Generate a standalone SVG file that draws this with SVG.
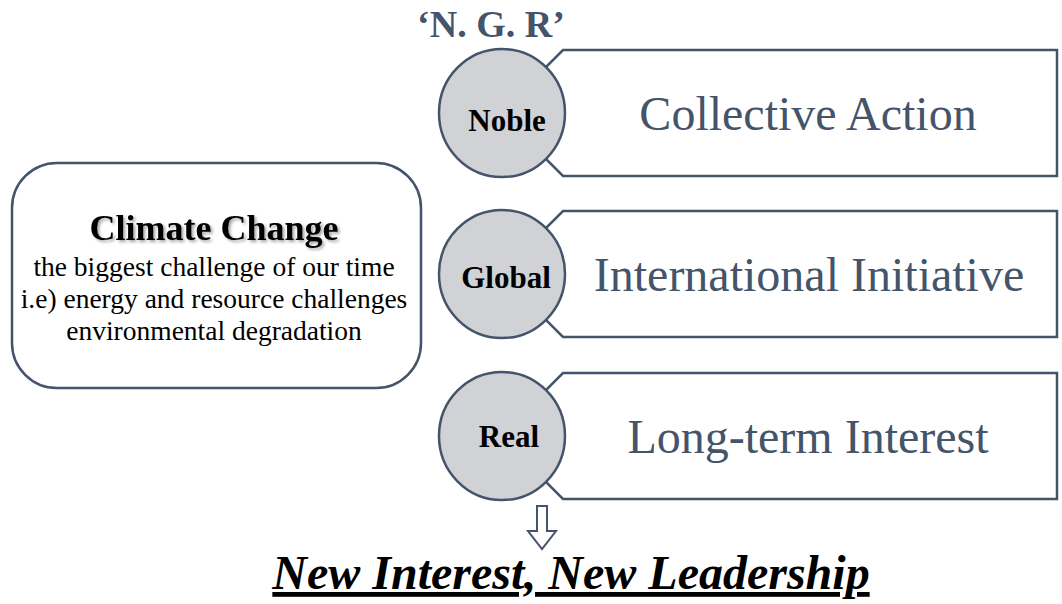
<svg xmlns="http://www.w3.org/2000/svg" width="1062" height="604" viewBox="0 0 1062 604">
<defs>
<filter id="sh" x="-10%" y="-30%" width="120%" height="160%">
<feGaussianBlur in="SourceAlpha" stdDeviation="1.5"/>
<feOffset dx="2" dy="2" result="b"/>
<feFlood flood-color="#000" flood-opacity="0.35"/>
<feComposite in2="b" operator="in"/>
<feMerge><feMergeNode/><feMergeNode in="SourceGraphic"/></feMerge>
</filter>
</defs>
<style>
.box{fill:#fff;stroke:#44546A;stroke-width:2.5}
.cir{fill:#D1D2D6;stroke:#44546A;stroke-width:2.5}
.big{font-family:"Liberation Serif",serif;font-size:48px;fill:#44546A;text-anchor:middle}
.lbl{font-family:"Liberation Serif",serif;font-size:31px;font-weight:bold;fill:#000;text-anchor:middle}
.body{font-family:"Liberation Serif",serif;font-size:27.5px;fill:#000;text-anchor:middle}
</style>
<rect width="1062" height="604" fill="#fff"/>
<g id="title">
<text x="491" y="37" font-family="Liberation Serif, serif" font-size="38" font-weight="bold" fill="#44546A" text-anchor="middle">‘N. G. R’</text>
</g>
<g id="climate">
<rect class="box" x="12" y="163" width="409" height="225" rx="45" ry="45"/>
<text x="214" y="240" font-family="Liberation Serif, serif" font-size="36" font-weight="bold" fill="#000" text-anchor="middle" filter="url(#sh)">Climate Change</text>
<text class="body" x="214" y="276">the biggest challenge of our time</text>
<text class="body" x="214" y="308">i.e) energy and resource challenges</text>
<text class="body" x="214" y="340">environmental degradation</text>
</g>
<g id="noble">
<polygon class="box" points="500,113 563,50 1057,50 1057,176 563,176"/>
<text class="big" x="808" y="130">Collective Action</text>
<ellipse class="cir" cx="502" cy="113" rx="63" ry="64"/>
<text class="lbl" x="507" y="131">Noble</text>
</g>
<g id="global">
<polygon class="box" points="500,274 563,211 1057,211 1057,337 563,337"/>
<text class="big" x="809" y="291">International Initiative</text>
<ellipse class="cir" cx="502" cy="274" rx="63" ry="64"/>
<text class="lbl" x="506" y="288">Global</text>
</g>
<g id="real">
<polygon class="box" points="500,436 563,373 1057,373 1057,499 563,499"/>
<text class="big" x="808" y="453">Long-term Interest</text>
<ellipse class="cir" cx="502" cy="436" rx="63" ry="64"/>
<text class="lbl" x="509" y="447">Real</text>
</g>
<g id="connectors">
<polygon points="537,506 547,506 547,531 556,531 542,549 528,531 537,531" fill="#fff" stroke="#44546A" stroke-width="2"/>
</g>
<g id="result">
<text x="571" y="589" font-family="Liberation Serif, serif" font-size="48" font-weight="bold" font-style="italic" fill="#000" text-anchor="middle" text-decoration="underline">New Interest, New Leadership</text>
</g>
</svg>
